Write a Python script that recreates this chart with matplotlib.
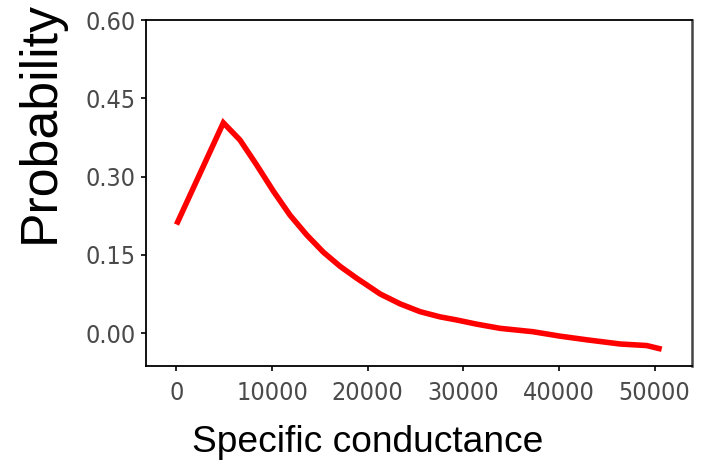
import matplotlib
matplotlib.use("Agg")
import matplotlib.pyplot as plt

# Fitted probability of occurrence versus specific conductance
conductance = [0, 4900, 6640, 8390, 10130, 11870, 13620, 15360, 17100,
               18850, 20240, 21290, 23380, 25470, 27560, 29310, 31400, 33840,
               37290, 40120, 42910, 46390, 49180, 50750]
probability = [0.208, 0.403, 0.370, 0.322, 0.272, 0.226, 0.188, 0.155,
               0.128, 0.105, 0.088, 0.075, 0.056, 0.041, 0.031, 0.025, 0.017,
               0.009, 0.0025, -0.006, -0.013, -0.021, -0.024, -0.031]

x_ticks = [0, 10000, 20000, 30000, 40000, 50000]
y_ticks = [0.00, 0.15, 0.30, 0.45, 0.60]
y_tick_labels = ["0.00", "0.15", "0.30", "0.45", "0.60"]

W, H = 708, 462
fig = plt.figure(figsize=(W / 100, H / 100), dpi=100)
left, right, top, bottom = 146, 692, 20, 366
ax = fig.add_axes([left / W, 1 - bottom / H, (right - left) / W, (bottom - top) / H])

ax.plot(conductance, probability, color="#ff0000", linewidth=4.0,
        solid_joinstyle="miter", solid_capstyle="butt")

ax.set_xlim(-3190, 53920)
ax.set_ylim(-0.0632, 0.60)
ax.set_xticks(x_ticks)
ax.set_xticklabels([str(v) for v in x_ticks])
ax.set_yticks(y_ticks)
ax.set_yticklabels(y_tick_labels)

for s in ax.spines.values():
    s.set_linewidth(1.3)
    s.set_color("black")
ax.spines["right"].set_linewidth(1.8)
ax.spines["right"].set_color("#444444")

ax.tick_params(axis="both", direction="out", length=3.5, width=1.2,
               colors="black", labelcolor="#4a4a4a")
ax.tick_params(axis="x", pad=7)
ax.tick_params(axis="y", pad=4)
for lab in ax.get_xticklabels() + ax.get_yticklabels():
    lab.set_fontfamily("DejaVu Sans")
    lab.set_fontstretch("condensed")
    lab.set_fontsize(18)

fig.text(368 / W, 1 - 452 / H, "Specific conductance", ha="center",
         va="baseline", fontsize=26.7, family="Liberation Sans", color="black")
fig.text(40 / W, 1 - 122 / H, "Probability", ha="center", va="center",
         rotation=90, fontsize=37.4, family="Liberation Sans", color="black")

fig.savefig("out.png", dpi=100, facecolor="white")
